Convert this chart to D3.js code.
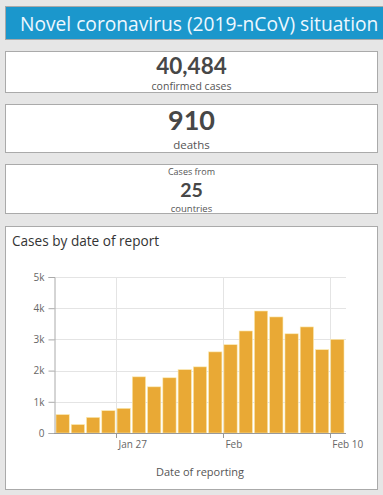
<!DOCTYPE html>
<html>
<head>
<meta charset="utf-8">
<script src="https://cdn.jsdelivr.net/npm/d3@7"></script>
<style>
  html, body { margin: 0; padding: 0; background: #e6e6e6; }
  svg { display: block; }
</style>
</head>
<body>
<script>
// ---- data ----
const headerTitle = "Novel coronavirus (2019-nCoV) situation";
const statNumbers = ["40,484", "910", "25"];
const statLabels = ["confirmed cases", "deaths", "countries"];
const statPrefix = ["", "", "Cases from"];
const chartTitle = "Cases by date of report";
const xAxisTitle = "Date of reporting";
const reports = ["1","2","3","4","5","6","7","8","9","10","11","12","13","14","15","16","17","18","19"];
const newCases = [590, 270, 500, 715, 790, 1800, 1480, 1770, 2030, 2120, 2600, 2830, 3270, 3910, 3720, 3180, 3400, 2670, 3000];
const xTickReports = ["5", "12", "19"];
const xTickLabels = ["Jan 27", "Feb", "Feb 10"];
const yTicks = [0, 1000, 2000, 3000, 4000, 5000];

const W = 383, H = 495;
const font = "'Open Sans', sans-serif";
const numFont = "Lato, 'Open Sans', sans-serif";
const svg = d3.select("body").append("svg").attr("width", W).attr("height", H)
  .style("font-family", font);
svg.append("rect").attr("width", W).attr("height", H).attr("fill", "#e6e6e6");

// header
svg.append("rect").attr("x", 5.5).attr("y", 6.5).attr("width", 400).attr("height", 33)
  .attr("fill", "#1b97cc").attr("stroke", "#a9a9a9");
svg.append("text").attr("x", 20).attr("y", 31).attr("fill", "#eef8ff")
  .attr("font-size", 19.2).text(headerTitle);

// stat boxes
const boxes = [{y: 51.5, h: 41}, {y: 104.5, h: 48}, {y: 164.5, h: 49}];
boxes.forEach(b => svg.append("rect").attr("x", 5.5).attr("y", b.y).attr("width", 372).attr("height", b.h)
  .attr("fill", "#fff").attr("stroke", "#aaa"));
const cx = 191.5;
// box 1
svg.append("text").attr("x", cx).attr("y", 73.5).attr("text-anchor", "middle").attr("fill", "#474747")
  .attr("font-family", numFont).attr("font-size", 22.5).attr("font-weight", 700).text(statNumbers[0]);
svg.append("text").attr("x", cx).attr("y", 89.5).attr("text-anchor", "middle").attr("fill", "#555")
  .attr("font-size", 10.5).text(statLabels[0]);
// box 2
svg.append("text").attr("x", cx).attr("y", 130).attr("text-anchor", "middle").attr("fill", "#474747")
  .attr("font-family", numFont).attr("font-size", 27).attr("font-weight", 700).text(statNumbers[1]);
svg.append("text").attr("x", cx).attr("y", 148.5).attr("text-anchor", "middle").attr("fill", "#555")
  .attr("font-size", 11.5).text(statLabels[1]);
// box 3
svg.append("text").attr("x", cx).attr("y", 175).attr("text-anchor", "middle").attr("fill", "#555")
  .attr("font-size", 9).text(statPrefix[2]);
svg.append("text").attr("x", cx).attr("y", 197).attr("text-anchor", "middle").attr("fill", "#474747")
  .attr("font-family", numFont).attr("font-size", 19.5).attr("font-weight", 700).text(statNumbers[2]);
svg.append("text").attr("x", cx).attr("y", 211.5).attr("text-anchor", "middle").attr("fill", "#555")
  .attr("font-size", 9.5).text(statLabels[2]);

// chart box
svg.append("rect").attr("x", 5.5).attr("y", 226.5).attr("width", 372).attr("height", 263)
  .attr("fill", "#fff").attr("stroke", "#aaa");
svg.append("text").attr("x", 12).attr("y", 246).attr("fill", "#333")
  .attr("font-size", 13.6).text(chartTitle);

const plot = {l: 54, r: 346, t: 277, b: 433};
const x = d3.scaleBand().domain(reports).range([plot.l, plot.r]).paddingInner(0.13).paddingOuter(0.13);
const y = d3.scaleLinear().domain([0, 5000]).range([plot.b, plot.t]);

const g = svg.append("g");
// horizontal grid
g.selectAll(".hg").data(yTicks.slice(1)).join("line")
  .attr("x1", plot.l).attr("x2", plot.r)
  .attr("y1", d => Math.round(y(d)) + 0.5).attr("y2", d => Math.round(y(d)) + 0.5)
  .attr("stroke", "#e4e4e4");
// vertical grid at tick positions
const tickPos = r => x(r) - x.step() * x.paddingInner() / 2;
g.selectAll(".vg").data(xTickReports).join("line")
  .attr("x1", d => Math.round(tickPos(d)) + 0.5).attr("x2", d => Math.round(tickPos(d)) + 0.5)
  .attr("y1", plot.t).attr("y2", plot.b)
  .attr("stroke", "#e4e4e4");

// bars
g.selectAll(".bar").data(newCases).join("rect")
  .attr("x", (d, i) => x(reports[i]))
  .attr("width", x.bandwidth())
  .attr("y", d => y(d))
  .attr("height", d => y(0) - y(d))
  .attr("fill", "#e9a935")
  .attr("stroke", "#fbeab0").attr("stroke-width", 0.6);

// y axis
const yAxis = d3.axisLeft(y).tickValues(yTicks).tickSize(6).tickPadding(4)
  .tickFormat(d => d === 0 ? "0" : (d / 1000) + "k");
const ya = svg.append("g").attr("transform", `translate(${plot.l + 0.5},0)`).call(yAxis);
ya.select(".domain").attr("stroke", "#aaa");
ya.selectAll(".tick line").attr("stroke", "#aaa");
ya.selectAll(".tick text").attr("fill", "#666").attr("font-size", 10).attr("font-family", font);

// x axis baseline
svg.append("line").attr("x1", plot.l).attr("x2", plot.r).attr("y1", plot.b + 0.5).attr("y2", plot.b + 0.5)
  .attr("stroke", "#999");
// x ticks
const xt = svg.append("g");
xt.selectAll("line").data(xTickReports).join("line")
  .attr("x1", d => Math.round(tickPos(d)) + 0.5).attr("x2", d => Math.round(tickPos(d)) + 0.5)
  .attr("y1", plot.b).attr("y2", plot.b + 5).attr("stroke", "#999");
xt.selectAll("text").data(xTickReports).join("text")
  .attr("x", d => tickPos(d) + 2.5).attr("y", plot.b + 15)
  .attr("fill", "#666").attr("font-size", 10)
  .text((d, i) => xTickLabels[i]);

svg.append("text").attr("x", 200).attr("y", 476).attr("text-anchor", "middle")
  .attr("fill", "#555").attr("font-size", 11).text(xAxisTitle);
</script>
</body>
</html>
